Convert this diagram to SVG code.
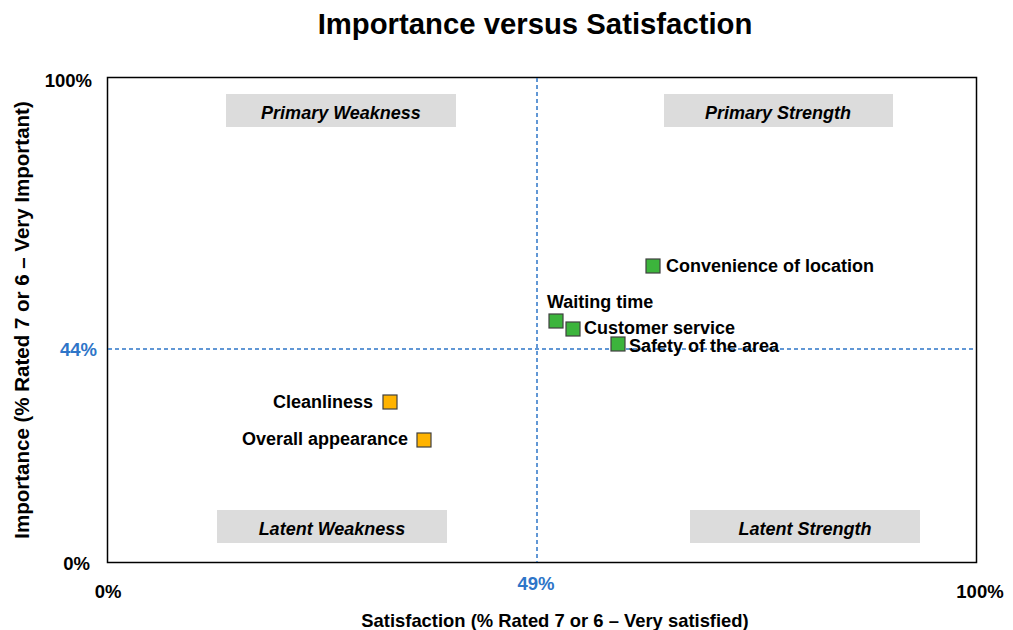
<svg xmlns="http://www.w3.org/2000/svg" width="1013" height="630" viewBox="0 0 1013 630">
<style>
text{font-family:"Liberation Sans",Arial,sans-serif;font-weight:bold;fill:#000}
.title{font-size:29.3px}
.tick{font-size:18.5px}
.blue{fill:#2e75c8}
.axis{font-size:18.4px}
.q rect{fill:#dcdcdc}
.q text{font-style:italic;font-size:18px;text-anchor:middle}
.lbl{font-size:18px}
.g{fill:#3cb43c;stroke:#404040;stroke-width:1.2}
.o{fill:#ffb300;stroke:#404040;stroke-width:1.2}
.ref{stroke:#2e75c8;stroke-width:1.5;stroke-dasharray:4 3;fill:none}
</style>
<rect width="1013" height="630" fill="#fff"/>
<text class="title" x="535" y="34" text-anchor="middle">Importance versus Satisfaction</text>
<rect x="107.5" y="77.5" width="869" height="485" fill="none" stroke="#000" stroke-width="1.5"/>
<g id="quadrants">
<g id="q-primary-weakness" class="q"><rect x="226" y="94" width="230" height="33"/><text x="341" y="119">Primary Weakness</text></g>
<g id="q-primary-strength" class="q"><rect x="664" y="94" width="229" height="33"/><text x="778" y="119">Primary Strength</text></g>
<g id="q-latent-weakness" class="q"><rect x="217" y="510" width="230" height="33"/><text x="332" y="535">Latent Weakness</text></g>
<g id="q-latent-strength" class="q"><rect x="690" y="510" width="230" height="33"/><text x="805" y="535">Latent Strength</text></g>
</g>
<g id="connectors">
<line class="ref" x1="108" y1="349" x2="976" y2="349"/>
<line class="ref" x1="537" y1="78" x2="537" y2="562"/>
</g>
<g id="ticks">
<text class="tick" x="92" y="87" text-anchor="end">100%</text>
<text class="tick blue" x="97" y="356" text-anchor="end">44%</text>
<text class="tick" x="90" y="570" text-anchor="end">0%</text>
<text class="tick" x="108" y="598" text-anchor="middle">0%</text>
<text class="tick blue" x="536" y="590" text-anchor="middle">49%</text>
<text class="tick" x="980" y="598" text-anchor="middle">100%</text>
</g>
<text class="axis" x="555" y="627" text-anchor="middle">Satisfaction (% Rated 7 or 6 – Very satisfied)</text>
<text class="axis" style="font-size:20.5px" transform="translate(29,320) rotate(-90)" text-anchor="middle">Importance (% Rated 7 or 6 – Very Important)</text>
<g id="p-convenience"><rect class="g" x="646" y="259" width="14" height="14"/><text class="lbl" x="666" y="272">Convenience of location</text></g>
<g id="p-waiting"><rect class="g" x="549" y="314" width="14" height="14"/><text class="lbl" x="547" y="308">Waiting time</text></g>
<g id="p-customer"><rect class="g" x="566" y="322" width="14" height="14"/><text class="lbl" x="584" y="334">Customer service</text></g>
<g id="p-safety"><rect class="g" x="611" y="337" width="14" height="14"/><text class="lbl" x="629" y="352">Safety of the area</text></g>
<g id="p-cleanliness"><rect class="o" x="383" y="395" width="14" height="14"/><text class="lbl" x="373" y="408" text-anchor="end">Cleanliness</text></g>
<g id="p-overall"><rect class="o" x="417" y="433" width="14" height="14"/><text class="lbl" x="408" y="445" text-anchor="end">Overall appearance</text></g>
</svg>
